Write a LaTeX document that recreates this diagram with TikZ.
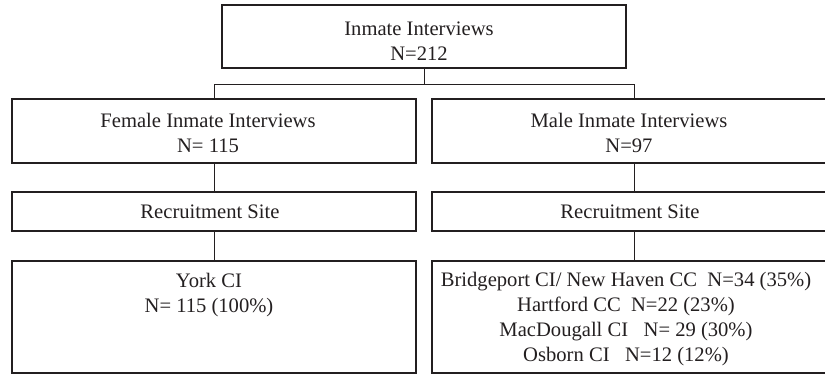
\documentclass[tikz,border=0pt]{standalone}
\usepackage{fontspec}
\setmainfont{Liberation Serif}
\definecolor{ink}{HTML}{231F20}
\begin{document}
\begin{tikzpicture}[x=1pt,y=-1pt,
  box/.style={draw=ink, line width=1.8pt, rectangle, minimum width=404pt, inner sep=0pt},
  txt/.style={align=center, inner sep=0pt, text=ink, font=\fontsize{20.6}{25}\selectfont},
  conn/.style={draw=ink, line width=0.9pt}]
\useasboundingbox (0,0) rectangle (825,375);
\node[box, minimum height=63pt] (top) at (424,36.5) {};
\node[txt] (topT) at ([xshift=-5pt,yshift=-5pt]top.center) {Inmate Interviews\\N=212};
\node[box, minimum height=64pt] (fem) at (214,131) {};
\node[txt] (femT) at ([xshift=-6pt,yshift=-2pt]fem.center) {Female Inmate Interviews\\N= 115};
\node[box, minimum height=64pt] (mal) at (634,131) {};
\node[txt] (malT) at ([xshift=-5pt,yshift=-2pt]mal.center) {Male Inmate Interviews\\N=97};
\node[box, minimum height=39pt] (fsite) at (214,211.5) {};
\node[txt] (fsiteT) at ([xshift=-4pt]fsite.center) {Recruitment Site};
\node[box, minimum height=39pt] (msite) at (634,211.5) {};
\node[txt] (msiteT) at ([xshift=-4pt]msite.center) {Recruitment Site};
\node[box, minimum height=112pt] (york) at (214,317) {};
\node[txt, anchor=north] (yorkT) at ([xshift=-5pt,yshift=-13pt]york.north) {York CI\\N= 115 (100\%)};
\node[box, minimum height=112pt] (msites) at (634,317) {};
\node[txt, anchor=north] (msitesT) at ([xshift=-8pt,yshift=-12pt]msites.north) {Bridgeport CI/ New Haven CC\ \ N=34 (35\%)\\Hartford CC\ \ N=22 (23\%)\\MacDougall CI\ \ \ N= 29 (30\%)\\Osborn CI\ \ \ N=12 (12\%)};
\coordinate (j) at (424,84);
\draw[conn] (top.south) -- (top.south |- j);
\draw[conn] (fem.north) -- (fem.north |- j) -- (mal.north |- j) -- (mal.north);
\draw[conn] (fem) -- (fsite);
\draw[conn] (fsite) -- (york);
\draw[conn] (mal) -- (msite);
\draw[conn] (msite) -- (msites);
\end{tikzpicture}
\end{document}
